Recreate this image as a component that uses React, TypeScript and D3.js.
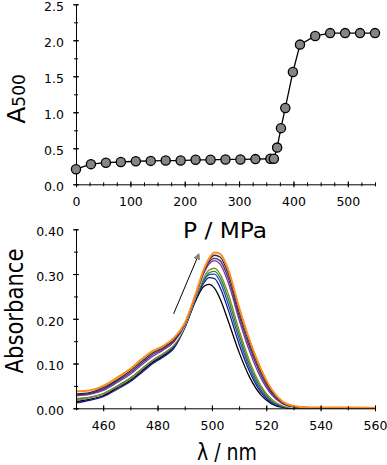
import { useEffect, useRef } from 'react';
import * as d3 from 'd3';

// top panel: A500 vs pressure
const pressure = [0, 27.5, 55, 82.5, 110, 137.5, 165, 192.5, 220, 247.5, 275, 302.5, 330, 357.5, 364, 370, 377, 385, 399, 412, 440, 467.5, 495, 522.5, 550];
const a500 = [0.21, 0.28, 0.30, 0.31, 0.32, 0.325, 0.33, 0.33, 0.34, 0.34, 0.345, 0.345, 0.35, 0.355, 0.355, 0.51, 0.78, 1.06, 1.56, 1.94, 2.06, 2.10, 2.10, 2.10, 2.10];

// bottom panel: spectra
const wavelengths = [450, 455, 460, 465, 470, 475, 478, 482, 486, 490, 494, 497, 499, 501, 503, 506, 510, 514, 518, 522, 526, 530, 535, 540, 550, 560];
const specBlack = [0.015, 0.020, 0.028, 0.045, 0.062, 0.087, 0.102, 0.117, 0.136, 0.180, 0.240, 0.272, 0.277, 0.268, 0.245, 0.195, 0.125, 0.068, 0.030, 0.010, 0.002, 0.000, 0.000, 0.000, 0.000, 0.000];
const specNavy = [0.012, 0.018, 0.026, 0.042, 0.060, 0.084, 0.099, 0.114, 0.134, 0.180, 0.243, 0.280, 0.292, 0.290, 0.270, 0.220, 0.143, 0.080, 0.036, 0.012, 0.003, 0.000, 0.000, 0.000, 0.000, 0.000];
const specBlue = [0.020, 0.024, 0.032, 0.048, 0.066, 0.091, 0.105, 0.120, 0.139, 0.182, 0.246, 0.285, 0.299, 0.300, 0.283, 0.233, 0.155, 0.088, 0.041, 0.014, 0.004, 0.001, 0.000, 0.000, 0.000, 0.000];
const specGreen = [0.022, 0.026, 0.034, 0.050, 0.068, 0.093, 0.107, 0.122, 0.141, 0.183, 0.247, 0.288, 0.303, 0.306, 0.292, 0.245, 0.165, 0.095, 0.046, 0.017, 0.005, 0.001, 0.000, 0.000, 0.000, 0.000];
const specOlive = [0.018, 0.024, 0.032, 0.048, 0.066, 0.092, 0.107, 0.122, 0.141, 0.184, 0.249, 0.293, 0.309, 0.313, 0.300, 0.256, 0.175, 0.103, 0.051, 0.020, 0.006, 0.002, 0.001, 0.000, 0.000, 0.000];
const specWhite = [0.025, 0.028, 0.036, 0.053, 0.072, 0.097, 0.111, 0.126, 0.145, 0.185, 0.250, 0.298, 0.318, 0.323, 0.313, 0.270, 0.188, 0.115, 0.060, 0.025, 0.008, 0.002, 0.001, 0.001, 0.000, 0.000];
const specPurple = [0.028, 0.031, 0.040, 0.057, 0.076, 0.101, 0.115, 0.130, 0.148, 0.186, 0.251, 0.301, 0.323, 0.330, 0.322, 0.281, 0.198, 0.125, 0.068, 0.030, 0.010, 0.003, 0.001, 0.001, 0.001, 0.000];
const specViolet = [0.030, 0.033, 0.043, 0.060, 0.080, 0.105, 0.119, 0.133, 0.151, 0.187, 0.252, 0.304, 0.327, 0.335, 0.330, 0.291, 0.207, 0.134, 0.075, 0.034, 0.012, 0.004, 0.001, 0.001, 0.001, 0.000];
const specDark = [0.032, 0.035, 0.046, 0.063, 0.084, 0.109, 0.123, 0.136, 0.153, 0.188, 0.253, 0.307, 0.331, 0.342, 0.338, 0.301, 0.216, 0.142, 0.082, 0.038, 0.013, 0.004, 0.002, 0.001, 0.001, 0.001];
const specOrange = [0.038, 0.040, 0.050, 0.068, 0.088, 0.114, 0.127, 0.139, 0.157, 0.190, 0.255, 0.310, 0.335, 0.348, 0.345, 0.310, 0.225, 0.150, 0.088, 0.042, 0.015, 0.005, 0.002, 0.002, 0.002, 0.001];

const spectra = [specBlack, specNavy, specBlue, specGreen, specOlive, specWhite, specPurple, specViolet, specDark, specOrange];
const spectraColors = ['#000000', '#1a1a80', '#2b4cc0', '#1e8a3a', '#8a8a20', '#ffffff', '#7a3a9a', '#5a2878', '#1c3038', '#ff8a1e'];

const topXTicks = [0, 100, 200, 300, 400, 500];
const topYTicks = [0, 0.5, 1.0, 1.5, 2.0, 2.5];
const botXTicks = [460, 480, 500, 520, 540, 560];
const botYTicks = [0, 0.1, 0.2, 0.3, 0.4];

const W = 387;
const H = 465;
const tickFont = 'DejaVu Sans, Verdana, sans-serif';
const labelFont = '"Comic Sans MS", "DejaVu Sans", sans-serif';

function drawAxes(
  g: d3.Selection<SVGGElement, unknown, null, undefined>,
  x: d3.ScaleLinear<number, number>,
  y: d3.ScaleLinear<number, number>,
  xMajor: number[], xMinor: number[], yMajor: number[], yMinor: number[],
  yFmt: string
) {
  const y0 = y.range()[0];
  const x0 = x.range()[0];

  const xa = g.append('g').attr('transform', `translate(0,${y0})`)
    .call(d3.axisBottom(x).tickValues(xMajor).tickSize(3).tickSizeOuter(0).tickPadding(10).tickFormat(d3.format('d')));
  xa.selectAll('.tick line').attr('y1', -3);
  const xm = g.append('g').attr('transform', `translate(0,${y0})`)
    .call(d3.axisBottom(x).tickValues(xMinor).tickSize(2).tickFormat(() => ''));
  xm.select('.domain').remove();
  xm.selectAll('.tick line').attr('y1', -2);

  const ya = g.append('g').attr('transform', `translate(${x0},0)`)
    .call(d3.axisLeft(y).tickValues(yMajor).tickSize(3).tickSizeOuter(0).tickPadding(9).tickFormat(d3.format(yFmt)));
  ya.selectAll('.tick line').attr('x1', 3);
  ya.selectAll('.tick text').attr('dy', '0.5em');
  const ym = g.append('g').attr('transform', `translate(${x0},0)`)
    .call(d3.axisLeft(y).tickValues(yMinor).tickSize(2).tickFormat(() => ''));
  ym.select('.domain').remove();
  ym.selectAll('.tick line').attr('x1', 2);

  g.selectAll('.tick text').attr('font-family', tickFont).attr('font-size', 12.5).attr('fill', '#000');
  g.selectAll('.tick line, .domain').attr('stroke', '#000').attr('stroke-width', 1);
}

export default function App() {
  const svgRef = useRef<SVGSVGElement>(null);

  useEffect(() => {
    if (!svgRef.current) return;
    const svg = d3.select(svgRef.current);
    svg.selectAll('*').remove();

    // ---- top panel
    const xTop = d3.scaleLinear().domain([0, 550]).range([76, 375]);
    const yTop = d3.scaleLinear().domain([0, 2.5]).range([184.3, 4.3]);
    const gTop = svg.append('g');

    drawAxes(gTop, xTop, yTop, topXTicks, d3.range(0, 551, 25), topYTicks, d3.range(0, 2.51, 0.25), '.1f');

    const pts = pressure.map((p, i) => [p, a500[i]] as [number, number]);
    gTop.append('path')
      .datum(pts)
      .attr('fill', 'none')
      .attr('stroke', '#000')
      .attr('stroke-width', 1.3)
      .attr('d', d3.line().x((d) => xTop(d[0])).y((d) => yTop(d[1])));

    gTop.selectAll('circle')
      .data(pts)
      .join('circle')
      .attr('cx', (d) => xTop(d[0]))
      .attr('cy', (d) => yTop(d[1]))
      .attr('r', 4.6)
      .attr('fill', '#858585')
      .attr('stroke', '#000')
      .attr('stroke-width', 1.3);

    const aLabel = gTop.append('text')
      .attr('transform', 'translate(25,99) rotate(-90)')
      .attr('text-anchor', 'middle')
      .attr('font-family', labelFont)
      .attr('fill', '#000');
    aLabel.append('tspan').attr('font-size', 25).text('A');
    aLabel.append('tspan').attr('font-size', 17).text('500');

    // ---- bottom panel
    const xBot = d3.scaleLinear().domain([450, 560]).range([76, 375]);
    const yBot = d3.scaleLinear().domain([0, 0.4]).range([408.3, 229.3]);
    const gBot = svg.append('g');

    const line = d3.line<number>()
      .x((_, i) => xBot(wavelengths[i]))
      .y((d) => yBot(d))
      .curve(d3.curveMonotoneX);

    spectra.forEach((s, i) => {
      const last = i === spectra.length - 1;
      gBot.append('path')
        .datum(s)
        .attr('fill', 'none')
        .attr('stroke', spectraColors[i])
        .attr('stroke-width', last ? 2 : 1.3)
        .attr('d', line);
    });

    drawAxes(gBot, xBot, yBot, botXTicks, d3.range(450, 561, 10), botYTicks, d3.range(0, 0.401, 0.05), '.2f');

    // arrow showing increasing pressure
    svg.append('defs').append('marker')
      .attr('id', 'arrowHead')
      .attr('viewBox', '0 0 10 10')
      .attr('refX', 2)
      .attr('refY', 5)
      .attr('markerWidth', 6)
      .attr('markerHeight', 6)
      .attr('markerUnits', 'userSpaceOnUse')
      .attr('orient', 'auto')
      .append('path')
      .attr('d', 'M0,0L10,5L0,10Z')
      .attr('fill', '#888')
      .attr('stroke', '#555')
      .attr('stroke-width', 0.8);

    gBot.append('line')
      .attr('x1', xBot(485.9))
      .attr('y1', yBot(0.211))
      .attr('x2', xBot(494.6))
      .attr('y2', yBot(0.336))
      .attr('stroke', '#000')
      .attr('stroke-width', 1)
      .attr('marker-end', 'url(#arrowHead)');

    // axis titles
    svg.append('text')
      .attr('x', 225)
      .attr('y', 238)
      .attr('text-anchor', 'middle')
      .attr('font-family', labelFont)
      .attr('font-size', 21)
      .attr('textLength', 84)
      .attr('lengthAdjust', 'spacingAndGlyphs')
      .text('P / MPa');

    svg.append('text')
      .attr('transform', 'translate(23,311) rotate(-90)')
      .attr('text-anchor', 'middle')
      .attr('font-family', labelFont)
      .attr('font-size', 24)
      .attr('textLength', 125)
      .attr('lengthAdjust', 'spacingAndGlyphs')
      .text('Absorbance');

    svg.append('text')
      .attr('x', 227)
      .attr('y', 460)
      .attr('text-anchor', 'middle')
      .attr('font-family', labelFont)
      .attr('font-size', 23)
      .attr('textLength', 60)
      .attr('lengthAdjust', 'spacingAndGlyphs')
      .text('λ / nm');
  }, []);

  return (
    <svg
      ref={svgRef}
      width={W}
      height={H}
      style={{ position: 'absolute', left: 0, top: 0, background: '#fff' }}
    />
  );
}
